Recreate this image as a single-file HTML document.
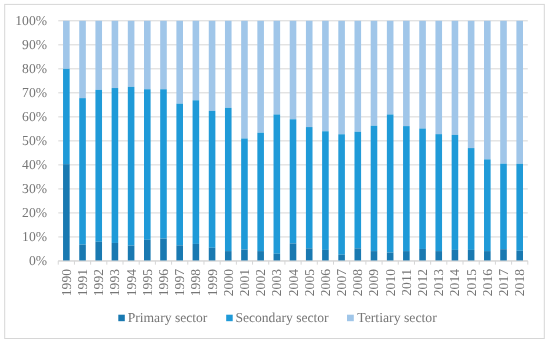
<!DOCTYPE html>
<html><head><meta charset="utf-8"><title>chart</title>
<style>html,body{margin:0;padding:0;background:#fff;}body{width:550px;height:345px;overflow:hidden;}svg{display:block;will-change:transform;}text{font-family:"Liberation Serif",serif;fill:#767676;text-rendering:geometricPrecision;}</style></head><body>
<svg width="550" height="345" viewBox="0 0 550 345">
<rect x="0" y="0" width="550" height="345" fill="#ffffff"/>
<rect x="4.7" y="4.4" width="539.6" height="334.1" fill="#ffffff" stroke="#d6d6d6" stroke-width="1"/>
<line x1="58.25" y1="260.95" x2="527.80" y2="260.95" stroke="#d6d6d6" stroke-width="1"/>
<line x1="58.25" y1="236.94" x2="527.80" y2="236.94" stroke="#d6d6d6" stroke-width="1"/>
<line x1="58.25" y1="212.92" x2="527.80" y2="212.92" stroke="#d6d6d6" stroke-width="1"/>
<line x1="58.25" y1="188.91" x2="527.80" y2="188.91" stroke="#d6d6d6" stroke-width="1"/>
<line x1="58.25" y1="164.89" x2="527.80" y2="164.89" stroke="#d6d6d6" stroke-width="1"/>
<line x1="58.25" y1="140.88" x2="527.80" y2="140.88" stroke="#d6d6d6" stroke-width="1"/>
<line x1="58.25" y1="116.86" x2="527.80" y2="116.86" stroke="#d6d6d6" stroke-width="1"/>
<line x1="58.25" y1="92.84" x2="527.80" y2="92.84" stroke="#d6d6d6" stroke-width="1"/>
<line x1="58.25" y1="68.83" x2="527.80" y2="68.83" stroke="#d6d6d6" stroke-width="1"/>
<line x1="58.25" y1="44.82" x2="527.80" y2="44.82" stroke="#d6d6d6" stroke-width="1"/>
<line x1="58.25" y1="20.80" x2="527.80" y2="20.80" stroke="#d6d6d6" stroke-width="1"/>
<rect x="63.05" y="20.80" width="6.60" height="48.03" fill="#a0c6e9"/>
<rect x="63.05" y="68.83" width="6.60" height="95.34" fill="#1f9ad8"/>
<rect x="63.05" y="164.17" width="6.60" height="96.78" fill="#1979b1"/>
<rect x="79.24" y="20.80" width="6.60" height="77.33" fill="#a0c6e9"/>
<rect x="79.24" y="98.13" width="6.60" height="146.49" fill="#1f9ad8"/>
<rect x="79.24" y="244.62" width="6.60" height="16.33" fill="#1979b1"/>
<rect x="95.43" y="20.80" width="6.60" height="69.04" fill="#a0c6e9"/>
<rect x="95.43" y="89.84" width="6.60" height="151.89" fill="#1f9ad8"/>
<rect x="95.43" y="241.74" width="6.60" height="19.21" fill="#1979b1"/>
<rect x="111.62" y="20.80" width="6.60" height="67.24" fill="#a0c6e9"/>
<rect x="111.62" y="88.04" width="6.60" height="154.90" fill="#1f9ad8"/>
<rect x="111.62" y="242.94" width="6.60" height="18.01" fill="#1979b1"/>
<rect x="127.81" y="20.80" width="6.60" height="66.04" fill="#a0c6e9"/>
<rect x="127.81" y="86.84" width="6.60" height="158.74" fill="#1f9ad8"/>
<rect x="127.81" y="245.58" width="6.60" height="15.37" fill="#1979b1"/>
<rect x="144.00" y="20.80" width="6.60" height="68.44" fill="#a0c6e9"/>
<rect x="144.00" y="89.24" width="6.60" height="150.57" fill="#1f9ad8"/>
<rect x="144.00" y="239.82" width="6.60" height="21.13" fill="#1979b1"/>
<rect x="160.19" y="20.80" width="6.60" height="68.44" fill="#a0c6e9"/>
<rect x="160.19" y="89.24" width="6.60" height="149.37" fill="#1f9ad8"/>
<rect x="160.19" y="238.62" width="6.60" height="22.33" fill="#1979b1"/>
<rect x="176.39" y="20.80" width="6.60" height="82.85" fill="#a0c6e9"/>
<rect x="176.39" y="103.65" width="6.60" height="141.69" fill="#1f9ad8"/>
<rect x="176.39" y="245.34" width="6.60" height="15.61" fill="#1979b1"/>
<rect x="192.58" y="20.80" width="6.60" height="79.49" fill="#a0c6e9"/>
<rect x="192.58" y="100.29" width="6.60" height="143.61" fill="#1f9ad8"/>
<rect x="192.58" y="243.90" width="6.60" height="17.05" fill="#1979b1"/>
<rect x="208.77" y="20.80" width="6.60" height="90.06" fill="#a0c6e9"/>
<rect x="208.77" y="110.86" width="6.60" height="136.89" fill="#1f9ad8"/>
<rect x="208.77" y="247.74" width="6.60" height="13.21" fill="#1979b1"/>
<rect x="224.96" y="20.80" width="6.60" height="87.05" fill="#a0c6e9"/>
<rect x="224.96" y="107.85" width="6.60" height="143.25" fill="#1f9ad8"/>
<rect x="224.96" y="251.10" width="6.60" height="9.85" fill="#1979b1"/>
<rect x="241.15" y="20.80" width="6.60" height="117.67" fill="#a0c6e9"/>
<rect x="241.15" y="138.47" width="6.60" height="111.07" fill="#1f9ad8"/>
<rect x="241.15" y="249.54" width="6.60" height="11.41" fill="#1979b1"/>
<rect x="257.34" y="20.80" width="6.60" height="111.91" fill="#a0c6e9"/>
<rect x="257.34" y="132.71" width="6.60" height="118.39" fill="#1f9ad8"/>
<rect x="257.34" y="251.10" width="6.60" height="9.85" fill="#1979b1"/>
<rect x="273.53" y="20.80" width="6.60" height="93.66" fill="#a0c6e9"/>
<rect x="273.53" y="114.46" width="6.60" height="139.29" fill="#1f9ad8"/>
<rect x="273.53" y="253.75" width="6.60" height="7.20" fill="#1979b1"/>
<rect x="289.72" y="20.80" width="6.60" height="98.46" fill="#a0c6e9"/>
<rect x="289.72" y="119.26" width="6.60" height="124.16" fill="#1f9ad8"/>
<rect x="289.72" y="243.42" width="6.60" height="17.53" fill="#1979b1"/>
<rect x="305.92" y="20.80" width="6.60" height="106.27" fill="#a0c6e9"/>
<rect x="305.92" y="127.07" width="6.60" height="121.28" fill="#1f9ad8"/>
<rect x="305.92" y="248.34" width="6.60" height="12.61" fill="#1979b1"/>
<rect x="322.11" y="20.80" width="6.60" height="110.47" fill="#a0c6e9"/>
<rect x="322.11" y="131.27" width="6.60" height="118.63" fill="#1f9ad8"/>
<rect x="322.11" y="249.90" width="6.60" height="11.05" fill="#1979b1"/>
<rect x="338.30" y="20.80" width="6.60" height="113.47" fill="#a0c6e9"/>
<rect x="338.30" y="134.27" width="6.60" height="120.44" fill="#1f9ad8"/>
<rect x="338.30" y="254.71" width="6.60" height="6.24" fill="#1979b1"/>
<rect x="354.49" y="20.80" width="6.60" height="110.95" fill="#a0c6e9"/>
<rect x="354.49" y="131.75" width="6.60" height="116.59" fill="#1f9ad8"/>
<rect x="354.49" y="248.34" width="6.60" height="12.61" fill="#1979b1"/>
<rect x="370.68" y="20.80" width="6.60" height="104.95" fill="#a0c6e9"/>
<rect x="370.68" y="125.75" width="6.60" height="125.36" fill="#1f9ad8"/>
<rect x="370.68" y="251.10" width="6.60" height="9.85" fill="#1979b1"/>
<rect x="386.87" y="20.80" width="6.60" height="93.66" fill="#a0c6e9"/>
<rect x="386.87" y="114.46" width="6.60" height="138.09" fill="#1f9ad8"/>
<rect x="386.87" y="252.54" width="6.60" height="8.41" fill="#1979b1"/>
<rect x="403.06" y="20.80" width="6.60" height="105.31" fill="#a0c6e9"/>
<rect x="403.06" y="126.11" width="6.60" height="125.00" fill="#1f9ad8"/>
<rect x="403.06" y="251.10" width="6.60" height="9.85" fill="#1979b1"/>
<rect x="419.26" y="20.80" width="6.60" height="107.71" fill="#a0c6e9"/>
<rect x="419.26" y="128.51" width="6.60" height="120.44" fill="#1f9ad8"/>
<rect x="419.26" y="248.94" width="6.60" height="12.01" fill="#1979b1"/>
<rect x="435.45" y="20.80" width="6.60" height="113.35" fill="#a0c6e9"/>
<rect x="435.45" y="134.15" width="6.60" height="116.95" fill="#1f9ad8"/>
<rect x="435.45" y="251.10" width="6.60" height="9.85" fill="#1979b1"/>
<rect x="451.64" y="20.80" width="6.60" height="114.07" fill="#a0c6e9"/>
<rect x="451.64" y="134.87" width="6.60" height="115.03" fill="#1f9ad8"/>
<rect x="451.64" y="249.90" width="6.60" height="11.05" fill="#1979b1"/>
<rect x="467.83" y="20.80" width="6.60" height="127.28" fill="#a0c6e9"/>
<rect x="467.83" y="148.08" width="6.60" height="101.82" fill="#1f9ad8"/>
<rect x="467.83" y="249.90" width="6.60" height="11.05" fill="#1979b1"/>
<rect x="484.02" y="20.80" width="6.60" height="138.57" fill="#a0c6e9"/>
<rect x="484.02" y="159.37" width="6.60" height="91.74" fill="#1f9ad8"/>
<rect x="484.02" y="251.10" width="6.60" height="9.85" fill="#1979b1"/>
<rect x="500.21" y="20.80" width="6.60" height="142.89" fill="#a0c6e9"/>
<rect x="500.21" y="163.69" width="6.60" height="85.49" fill="#1f9ad8"/>
<rect x="500.21" y="249.18" width="6.60" height="11.77" fill="#1979b1"/>
<rect x="516.40" y="20.80" width="6.60" height="143.01" fill="#a0c6e9"/>
<rect x="516.40" y="163.81" width="6.60" height="86.93" fill="#1f9ad8"/>
<rect x="516.40" y="250.74" width="6.60" height="10.21" fill="#1979b1"/>
<line x1="58.25" y1="260.95" x2="527.80" y2="260.95" stroke="#d6d6d6" stroke-width="1"/>
<line x1="58.25" y1="260.95" x2="58.25" y2="264.65" stroke="#d6d6d6" stroke-width="1"/>
<line x1="74.44" y1="260.95" x2="74.44" y2="264.65" stroke="#d6d6d6" stroke-width="1"/>
<line x1="90.63" y1="260.95" x2="90.63" y2="264.65" stroke="#d6d6d6" stroke-width="1"/>
<line x1="106.82" y1="260.95" x2="106.82" y2="264.65" stroke="#d6d6d6" stroke-width="1"/>
<line x1="123.02" y1="260.95" x2="123.02" y2="264.65" stroke="#d6d6d6" stroke-width="1"/>
<line x1="139.21" y1="260.95" x2="139.21" y2="264.65" stroke="#d6d6d6" stroke-width="1"/>
<line x1="155.40" y1="260.95" x2="155.40" y2="264.65" stroke="#d6d6d6" stroke-width="1"/>
<line x1="171.59" y1="260.95" x2="171.59" y2="264.65" stroke="#d6d6d6" stroke-width="1"/>
<line x1="187.78" y1="260.95" x2="187.78" y2="264.65" stroke="#d6d6d6" stroke-width="1"/>
<line x1="203.97" y1="260.95" x2="203.97" y2="264.65" stroke="#d6d6d6" stroke-width="1"/>
<line x1="220.16" y1="260.95" x2="220.16" y2="264.65" stroke="#d6d6d6" stroke-width="1"/>
<line x1="236.36" y1="260.95" x2="236.36" y2="264.65" stroke="#d6d6d6" stroke-width="1"/>
<line x1="252.55" y1="260.95" x2="252.55" y2="264.65" stroke="#d6d6d6" stroke-width="1"/>
<line x1="268.74" y1="260.95" x2="268.74" y2="264.65" stroke="#d6d6d6" stroke-width="1"/>
<line x1="284.93" y1="260.95" x2="284.93" y2="264.65" stroke="#d6d6d6" stroke-width="1"/>
<line x1="301.12" y1="260.95" x2="301.12" y2="264.65" stroke="#d6d6d6" stroke-width="1"/>
<line x1="317.31" y1="260.95" x2="317.31" y2="264.65" stroke="#d6d6d6" stroke-width="1"/>
<line x1="333.50" y1="260.95" x2="333.50" y2="264.65" stroke="#d6d6d6" stroke-width="1"/>
<line x1="349.69" y1="260.95" x2="349.69" y2="264.65" stroke="#d6d6d6" stroke-width="1"/>
<line x1="365.89" y1="260.95" x2="365.89" y2="264.65" stroke="#d6d6d6" stroke-width="1"/>
<line x1="382.08" y1="260.95" x2="382.08" y2="264.65" stroke="#d6d6d6" stroke-width="1"/>
<line x1="398.27" y1="260.95" x2="398.27" y2="264.65" stroke="#d6d6d6" stroke-width="1"/>
<line x1="414.46" y1="260.95" x2="414.46" y2="264.65" stroke="#d6d6d6" stroke-width="1"/>
<line x1="430.65" y1="260.95" x2="430.65" y2="264.65" stroke="#d6d6d6" stroke-width="1"/>
<line x1="446.84" y1="260.95" x2="446.84" y2="264.65" stroke="#d6d6d6" stroke-width="1"/>
<line x1="463.03" y1="260.95" x2="463.03" y2="264.65" stroke="#d6d6d6" stroke-width="1"/>
<line x1="479.23" y1="260.95" x2="479.23" y2="264.65" stroke="#d6d6d6" stroke-width="1"/>
<line x1="495.42" y1="260.95" x2="495.42" y2="264.65" stroke="#d6d6d6" stroke-width="1"/>
<line x1="511.61" y1="260.95" x2="511.61" y2="264.65" stroke="#d6d6d6" stroke-width="1"/>
<line x1="527.80" y1="260.95" x2="527.80" y2="264.65" stroke="#d6d6d6" stroke-width="1"/>
<text x="47.0" y="264.95" font-size="13.6" text-anchor="end">0%</text>
<text x="47.0" y="240.94" font-size="13.6" text-anchor="end">10%</text>
<text x="47.0" y="216.92" font-size="13.6" text-anchor="end">20%</text>
<text x="47.0" y="192.91" font-size="13.6" text-anchor="end">30%</text>
<text x="47.0" y="168.89" font-size="13.6" text-anchor="end">40%</text>
<text x="47.0" y="144.88" font-size="13.6" text-anchor="end">50%</text>
<text x="47.0" y="120.86" font-size="13.6" text-anchor="end">60%</text>
<text x="47.0" y="96.84" font-size="13.6" text-anchor="end">70%</text>
<text x="47.0" y="72.83" font-size="13.6" text-anchor="end">80%</text>
<text x="47.0" y="48.82" font-size="13.6" text-anchor="end">90%</text>
<text x="47.0" y="24.80" font-size="13.6" text-anchor="end">100%</text>
<text transform="translate(70.85,269.00) rotate(-90)" font-size="13.6" text-anchor="end">1990</text>
<text transform="translate(87.04,269.00) rotate(-90)" font-size="13.6" text-anchor="end">1991</text>
<text transform="translate(103.23,269.00) rotate(-90)" font-size="13.6" text-anchor="end">1992</text>
<text transform="translate(119.42,269.00) rotate(-90)" font-size="13.6" text-anchor="end">1993</text>
<text transform="translate(135.61,269.00) rotate(-90)" font-size="13.6" text-anchor="end">1994</text>
<text transform="translate(151.80,269.00) rotate(-90)" font-size="13.6" text-anchor="end">1995</text>
<text transform="translate(167.99,269.00) rotate(-90)" font-size="13.6" text-anchor="end">1996</text>
<text transform="translate(184.19,269.00) rotate(-90)" font-size="13.6" text-anchor="end">1997</text>
<text transform="translate(200.38,269.00) rotate(-90)" font-size="13.6" text-anchor="end">1998</text>
<text transform="translate(216.57,269.00) rotate(-90)" font-size="13.6" text-anchor="end">1999</text>
<text transform="translate(232.76,269.00) rotate(-90)" font-size="13.6" text-anchor="end">2000</text>
<text transform="translate(248.95,269.00) rotate(-90)" font-size="13.6" text-anchor="end">2001</text>
<text transform="translate(265.14,269.00) rotate(-90)" font-size="13.6" text-anchor="end">2002</text>
<text transform="translate(281.33,269.00) rotate(-90)" font-size="13.6" text-anchor="end">2003</text>
<text transform="translate(297.52,269.00) rotate(-90)" font-size="13.6" text-anchor="end">2004</text>
<text transform="translate(313.72,269.00) rotate(-90)" font-size="13.6" text-anchor="end">2005</text>
<text transform="translate(329.91,269.00) rotate(-90)" font-size="13.6" text-anchor="end">2006</text>
<text transform="translate(346.10,269.00) rotate(-90)" font-size="13.6" text-anchor="end">2007</text>
<text transform="translate(362.29,269.00) rotate(-90)" font-size="13.6" text-anchor="end">2008</text>
<text transform="translate(378.48,269.00) rotate(-90)" font-size="13.6" text-anchor="end">2009</text>
<text transform="translate(394.67,269.00) rotate(-90)" font-size="13.6" text-anchor="end">2010</text>
<text transform="translate(410.86,269.00) rotate(-90)" font-size="13.6" text-anchor="end">2011</text>
<text transform="translate(427.06,269.00) rotate(-90)" font-size="13.6" text-anchor="end">2012</text>
<text transform="translate(443.25,269.00) rotate(-90)" font-size="13.6" text-anchor="end">2013</text>
<text transform="translate(459.44,269.00) rotate(-90)" font-size="13.6" text-anchor="end">2014</text>
<text transform="translate(475.63,269.00) rotate(-90)" font-size="13.6" text-anchor="end">2015</text>
<text transform="translate(491.82,269.00) rotate(-90)" font-size="13.6" text-anchor="end">2016</text>
<text transform="translate(508.01,269.00) rotate(-90)" font-size="13.6" text-anchor="end">2017</text>
<text transform="translate(524.20,269.00) rotate(-90)" font-size="13.6" text-anchor="end">2018</text>
<rect x="118.30" y="314.70" width="6.5" height="6.5" fill="#1979b1"/>
<text x="127.70" y="322.30" font-size="13.6">Primary sector</text>
<rect x="226.20" y="314.70" width="6.5" height="6.5" fill="#1f9ad8"/>
<text x="235.40" y="322.30" font-size="13.6">Secondary sector</text>
<rect x="347.00" y="314.70" width="6.8" height="6.5" fill="#a0c6e9"/>
<text x="357.20" y="322.30" font-size="13.75">Tertiary sector</text>
</svg></body></html>
